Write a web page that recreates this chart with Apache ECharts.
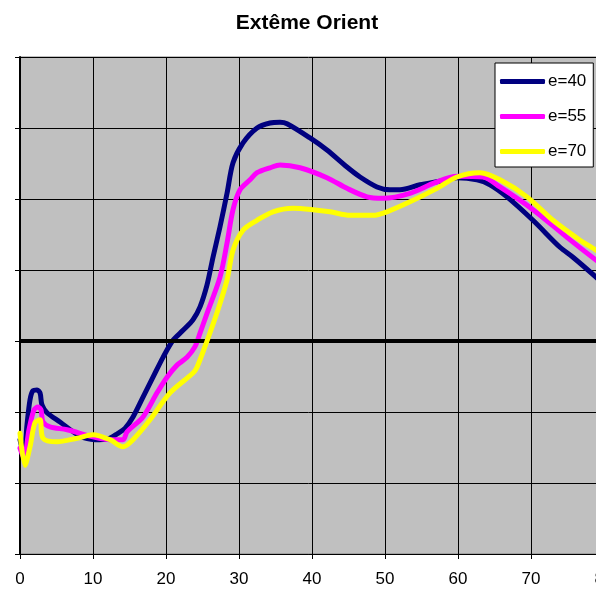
<!DOCTYPE html>
<html>
<head>
<meta charset="utf-8">
<script src="https://cdn.jsdelivr.net/npm/echarts@6/dist/echarts.min.js"></script>
<style>html,body{margin:0;padding:0;background:#fff}#c{width:596px;height:598px}</style>
</head>
<body>
<div id="c"></div>
<script>
const titleText = "Extême Orient";
const seriesNames = ["e=40", "e=55", "e=70"];
const xTicks = [0, 10, 20, 30, 40, 50, 60, 70, 80];

const x40 = [0,0.55,0.96,1.37,1.78,2.33,2.74,3.01,3.70,5.48,8.22,10.27,12.05,13.42,14.38,15.48,16.85,18.22,19.59,20.96,22.33,23.70,24.66,25.62,26.44,27.40,28.36,29.18,30.55,32.47,34.25,35.62,36.58,39.73,42.05,44.79,46.58,48.90,50.68,52.05,54.79,57.53,59.86,62.60,64.38,66.71,70.27,73.97,75.75,78.90,80];
const y40 = [-1.39,-1.61,-1.18,-0.83,-0.70,-0.69,-0.73,-0.90,-1.01,-1.14,-1.34,-1.39,-1.38,-1.30,-1.23,-1.07,-0.79,-0.51,-0.23,0.01,0.15,0.30,0.48,0.79,1.18,1.61,2.08,2.51,2.79,3.00,3.07,3.08,3.06,2.86,2.69,2.45,2.31,2.17,2.13,2.13,2.20,2.25,2.30,2.27,2.20,2.03,1.70,1.32,1.18,0.90,0.79];

const x55 = [0,0.55,1.23,1.92,2.47,2.88,3.15,4.11,6.44,10.0,12.33,14.11,14.66,16.85,18.77,20.14,21.51,22.88,23.97,24.66,25.62,27.40,28.36,29.18,30.14,31.51,32.47,34.25,35.62,38.36,42.05,44.79,47.53,49.73,53.42,56.85,59.86,63.42,65.75,70.27,74.93,78.90,80];
const y55 = [-1.51,-1.65,-1.25,-0.97,-0.93,-0.97,-1.14,-1.21,-1.25,-1.35,-1.39,-1.39,-1.28,-1.07,-0.73,-0.51,-0.34,-0.23,-0.08,0.11,0.39,0.90,1.38,1.85,2.13,2.27,2.37,2.44,2.48,2.44,2.30,2.15,2.03,2.01,2.08,2.23,2.32,2.31,2.17,1.85,1.46,1.14,1.06];

const x70 = [0,0.68,1.37,2.05,2.74,3.15,5.07,7.81,10.0,12.33,14.11,15.48,17.81,20.55,23.70,24.25,25.62,27.12,28.36,29.18,30.55,32.47,34.66,37.40,40.14,42.47,45.21,48.36,50.27,53.42,57.12,59.86,63.01,65.75,69.45,73.01,76.71,78.90,80];
const y70 = [-1.30,-1.75,-1.49,-1.15,-1.11,-1.37,-1.42,-1.37,-1.32,-1.39,-1.49,-1.39,-1.11,-0.73,-0.45,-0.37,0.0,0.44,0.86,1.28,1.56,1.70,1.82,1.87,1.85,1.82,1.77,1.77,1.82,1.96,2.15,2.31,2.37,2.27,2.03,1.70,1.42,1.28,1.20];

const colors = ["#000080", "#FF00FF", "#FFFF00"];
const zip = (xs, ys) => xs.map((x, i) => [x, ys[i]]);
const allData = [zip(x40, y40), zip(x55, y55), zip(x70, y70)];

const chart = echarts.init(document.getElementById('c'), null, {renderer: 'canvas'});
chart.setOption({
  animation: false,
  backgroundColor: '#ffffff',
  title: {
    text: titleText, left: 302, top: 8, textAlign: 'center',
    textStyle: {fontFamily: 'Liberation Sans, Arial', fontWeight: 'bold', fontSize: 21, color: '#000'}
  },
  legend: {
    orient: 'vertical', left: 495, top: 63,
    backgroundColor: '#ffffff', borderColor: '#000', borderWidth: 1,
    padding: [10, 7, 7, 5], itemGap: 18, itemWidth: 45, itemHeight: 5,
    icon: 'roundRect',
    textStyle: {fontFamily: 'Liberation Sans, Arial', fontSize: 17, color: '#000', padding: [0,0,0,-2]},
    data: seriesNames
  },
  grid: {
    left: 20, top: 57, width: 584, height: 497,
    outerBoundsMode: 'none', containLabel: false,
    show: true, backgroundColor: '#C0C0C0', borderColor: '#808080', borderWidth: 1
  },
  xAxis: {
    type: 'value', min: 0, max: 80, interval: 10,
    axisLine: {show: true, onZero: false, lineStyle: {color: '#000', width: 1}},
    axisTick: {show: true, length: 5, lineStyle: {color: '#000'}},
    axisLabel: {fontFamily: 'Liberation Sans, Arial', fontSize: 17, color: '#000', margin: 17,
      formatter: v => xTicks.includes(v) ? String(v) : ''},
    splitLine: {show: true, lineStyle: {color: '#000', width: 1}}
  },
  yAxis: {
    type: 'value', min: -3, max: 4, interval: 1,
    axisLine: {show: true, onZero: false, lineStyle: {color: '#000', width: 2}},
    axisTick: {show: true, length: 5, lineStyle: {color: '#000'}},
    axisLabel: {show: false},
    splitLine: {show: true, lineStyle: {color: '#000', width: 1}}
  },
  series: seriesNames.map((n, i) => ({
    name: n, type: 'line', data: allData[i], showSymbol: false, smooth: 0.3,
    lineStyle: {color: colors[i], width: 5, cap: 'round', join: 'round'},
    itemStyle: {color: colors[i]},
    z: 3 + i,
    markLine: i === 0 ? {
      silent: true, symbol: 'none', label: {show: false},
      lineStyle: {color: '#000', width: 4, type: 'solid'},
      data: [{yAxis: 0}]
    } : undefined
  }))
});
</script>
</body>
</html>
